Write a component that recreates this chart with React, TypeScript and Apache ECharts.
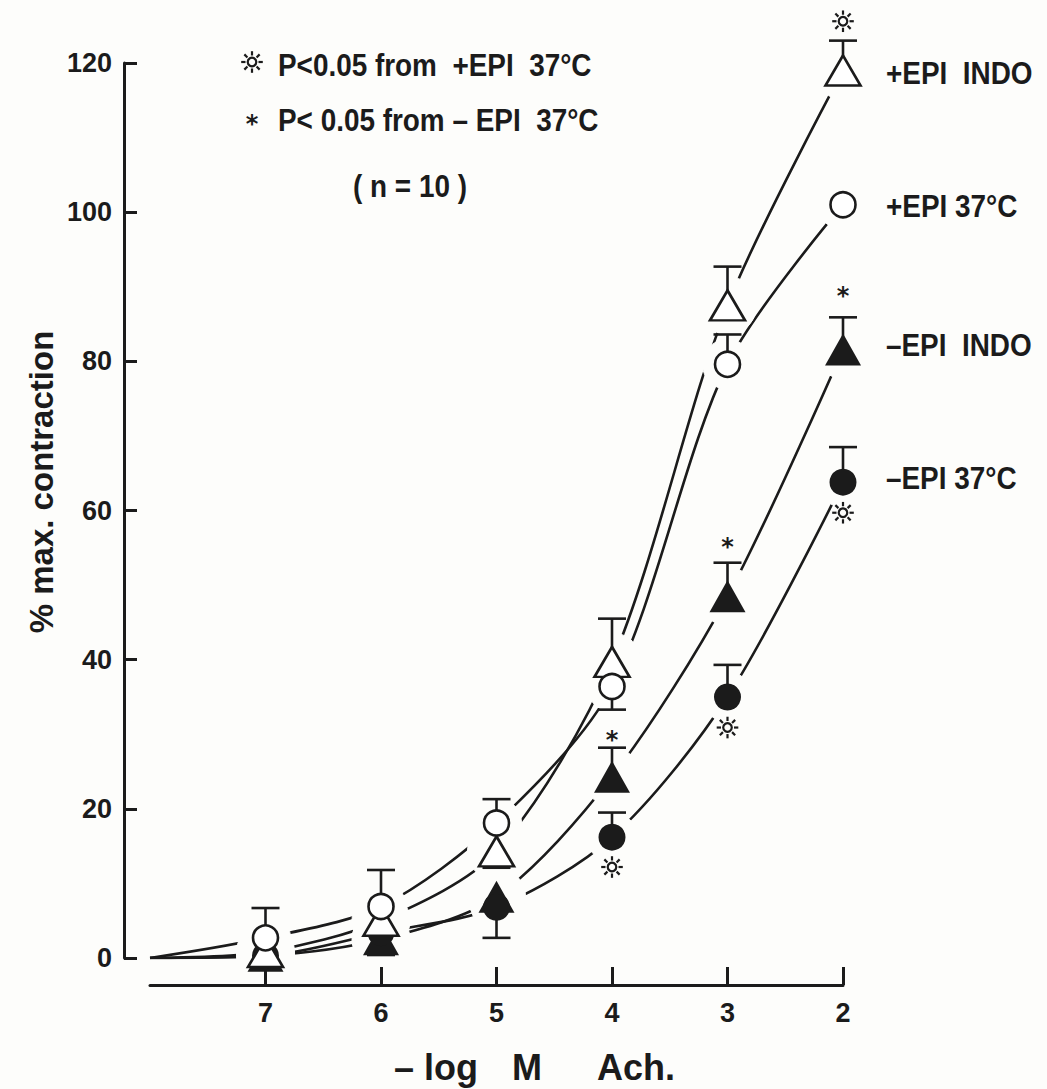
import React, { useEffect, useRef } from "react";
import * as echarts from "echarts";

// -log M Ach. levels
const xLevels = [7, 6, 5, 4, 3, 2];
// % max. contraction (means)
const plusIndo = [0.8, 5, 14.3, 39.7, 87.5, 119];
const plus37 = [2.7, 6.9, 18.1, 36.4, 79.6, 101];
const minusIndo = [0.3, 2.5, 8.2, 24.3, 48.5, 81.6];
const minus37 = [0.3, 3.4, 6.8, 16.2, 35, 63.8];
// error bar end values (null = not drawn)
const plusIndoErr = [null, null, 12.1, 45.5, 92.7, 123];
const plus37Err = [6.7, 11.8, 21.3, 33.3, 83.6, null];
const minusIndoErr = [null, null, null, 28.2, 53, 85.9];
const minus37Err = [null, 0.4, 2.7, 19.5, 39.3, 68.5];
// significance marks [x, y]
const sunMarks = [[2, 125.6], [4, 12.2], [3, 30.9], [2, 59.7]];
const starMarks = [[4, 29.7], [3, 55.7], [2, 89.3]];
const yTicks = [0, 20, 40, 60, 80, 100, 120];
const xTicks = [2, 3, 4, 5, 6, 7];

const INK = "#1b1b1b";
const BG = "#fdfdfb";
const TXT = "'Liberation Sans', Arial, sans-serif";

const pts = (vals: number[]) => xLevels.map((x, i) => [x, vals[i]]);
const curve = (vals: number[]) => [[8, 0], ...pts(vals)];
const errs = (vals: number[], e: (number | null)[]) =>
  xLevels
    .map((x, i) => (e[i] == null ? null : [x, vals[i], e[i]]))
    .filter((d) => d !== null);

// sun-shaped significance glyph, centred on (0,0) of its group
const sunChildren = () => {
  const st = { stroke: INK, lineWidth: 2.2, fill: "none" };
  const kids: any[] = [{ type: "circle", shape: { cx: 0, cy: 0, r: 4.3 }, style: { ...st, fill: BG } }];
  for (let k = 0; k < 8; k++) {
    const a = (k * Math.PI) / 4;
    kids.push({
      type: "line",
      shape: { x1: 6.5 * Math.cos(a), y1: 6.5 * Math.sin(a), x2: 10.8 * Math.cos(a), y2: 10.8 * Math.sin(a) },
      style: st,
    });
  }
  return kids;
};

export default function App() {
  const ref = useRef<HTMLDivElement>(null);
  useEffect(() => {
    if (!ref.current) return;
    const chart = echarts.init(ref.current, null, { renderer: "svg" });

    const lineSeries = [plusIndo, plus37, minusIndo, minus37].map((v) => ({
      type: "line",
      data: curve(v),
      smooth: 0.3,
      showSymbol: false,
      symbol: "none",
      lineStyle: { color: INK, width: 2.6 },
      z: 1,
      silent: true,
    }));

    const halo = (data: number[][], r: number) => ({
      type: "custom",
      data,
      encode: { x: 0, y: 1 },
      z: 3,
      clip: false,
      silent: true,
      renderItem: (params: any, api: any) => {
        const p = api.coord([api.value(0), api.value(1)]);
        return {
          type: "circle",
          shape: { cx: p[0], cy: p[1], r },
          style: { fill: BG, stroke: BG, lineWidth: 1 },
        };
      },
    });

    const errData = [
      ...errs(plusIndo, plusIndoErr),
      ...errs(plus37, plus37Err),
      ...errs(minusIndo, minusIndoErr),
      ...errs(minus37, minus37Err),
    ];

    const markerBase = { type: "scatter", z: 5, clip: false, silent: true };

    const text = (x: number, y: number, s: string, font: string, align = "left", extra: any = {}) => ({
      type: "text",
      x,
      y,
      ...extra,
      style: { text: s, fill: INK, font, align, verticalAlign: "middle" },
    });
    const LBL = `bold 31px ${TXT}`;
    const NARROWED = { scaleX: 0.9 };

    const option: any = {
      animation: false,
      backgroundColor: BG,
      grid: { left: 150, top: 63, width: 693, height: 895 },
      xAxis: {
        type: "value",
        min: 2,
        max: 8,
        interval: 1,
        inverse: true,
        position: "bottom",
        offset: 27,
        z: 10,
        axisLine: { show: true, onZero: false, lineStyle: { color: INK, width: 3 } },
        axisTick: {
          show: true,
          inside: true,
          length: 18,
          lineStyle: { color: INK, width: 3 },
          customValues: xTicks,
        },
        axisLabel: {
          color: INK,
          fontFamily: TXT,
          fontWeight: "bold",
          fontSize: 27,
          margin: 14,
          customValues: xTicks,
        },
        splitLine: { show: false },
      },
      yAxis: {
        type: "value",
        min: 0,
        max: 120,
        interval: 20,
        position: "left",
        offset: 26,
        z: 10,
        axisLine: { show: true, onZero: false, lineStyle: { color: INK, width: 3 } },
        axisTick: {
          show: true,
          inside: true,
          length: 13,
          lineStyle: { color: INK, width: 3 },
          customValues: yTicks,
        },
        axisLabel: {
          color: INK,
          fontFamily: TXT,
          fontWeight: "bold",
          fontSize: 27,
          margin: 12,
          customValues: yTicks,
        },
        splitLine: { show: false },
      },
      series: [
        ...lineSeries,
        halo([...pts(plusIndo), ...pts(minusIndo)], 29),
        halo([...pts(plus37), ...pts(minus37)], 25),
        {
          type: "custom",
          data: errData,
          encode: { x: 0, y: 1 },
          z: 4,
          clip: false,
          silent: true,
          renderItem: (params: any, api: any) => {
            const x = api.value(0);
            const p0 = api.coord([x, api.value(1)]);
            const p1 = api.coord([x, api.value(2)]);
            const st = { stroke: INK, lineWidth: 2.6 };
            return {
              type: "group",
              children: [
                { type: "line", shape: { x1: p0[0], y1: p0[1], x2: p1[0], y2: p1[1] }, style: st },
                { type: "line", shape: { x1: p1[0] - 14, y1: p1[1], x2: p1[0] + 14, y2: p1[1] }, style: st },
              ],
            };
          },
        },
        {
          ...markerBase,
          data: pts(minusIndo),
          symbol: "triangle",
          symbolSize: [36, 32],
          itemStyle: { color: INK, opacity: 1 },
        },
        {
          ...markerBase,
          data: pts(minus37),
          symbol: "circle",
          symbolSize: 27,
          itemStyle: { color: INK, opacity: 1 },
        },
        {
          ...markerBase,
          data: pts(plusIndo),
          symbol: "triangle",
          symbolSize: [35, 30],
          itemStyle: { color: "#ffffff", borderColor: INK, borderWidth: 2.6, opacity: 1 },
        },
        {
          ...markerBase,
          data: pts(plus37),
          symbol: "circle",
          symbolSize: 25,
          itemStyle: { color: "#ffffff", borderColor: INK, borderWidth: 2.6, opacity: 1 },
        },
        {
          type: "custom",
          data: sunMarks,
          encode: { x: 0, y: 1 },
          z: 6,
          clip: false,
          silent: true,
          renderItem: (params: any, api: any) => {
            const p = api.coord([api.value(0), api.value(1)]);
            return { type: "group", x: p[0], y: p[1], children: sunChildren() };
          },
        },
        {
          type: "custom",
          data: starMarks,
          encode: { x: 0, y: 1 },
          z: 6,
          clip: false,
          silent: true,
          renderItem: (params: any, api: any) => {
            const p = api.coord([api.value(0), api.value(1)]);
            return {
              type: "text",
              x: p[0],
              y: p[1] + 4,
              style: {
                text: "*",
                fill: INK,
                font: "bold 24px 'DejaVu Sans', sans-serif",
                align: "center",
                verticalAlign: "middle",
              },
            };
          },
        },
      ],
      graphic: [
        { type: "group", x: 252, y: 62, children: sunChildren() },
        text(278, 65, "P<0.05 from  +EPI  37°C", LBL, "left", NARROWED),
        text(252, 124, "*", "bold 24px 'DejaVu Sans', sans-serif", "center"),
        text(278, 120, "P< 0.05 from – EPI  37°C", LBL, "left", NARROWED),
        text(410, 186, "( n = 10 )", LBL, "center", NARROWED),
        text(886, 73, "+EPI  INDO", LBL, "left", NARROWED),
        text(886, 206, "+EPI 37°C", LBL, "left", NARROWED),
        text(886, 345, "–EPI  INDO", LBL, "left", NARROWED),
        text(886, 478, "–EPI 37°C", LBL, "left", NARROWED),
        text(41, 482, "% max. contraction", `bold 33px ${TXT}`, "center", { rotation: Math.PI / 2 }),
        text(436, 1067, "– log", `bold 36px ${TXT}`, "center"),
        text(527, 1067, "M", `bold 36px ${TXT}`, "center"),
        text(636, 1067, "Ach.", `bold 36px ${TXT}`, "center"),
      ],
    };
    chart.setOption(option);
    return () => chart.dispose();
  }, []);
  return <div ref={ref} style={{ position: "fixed", left: 0, top: 0, width: 1047, height: 1089 }} />;
}
